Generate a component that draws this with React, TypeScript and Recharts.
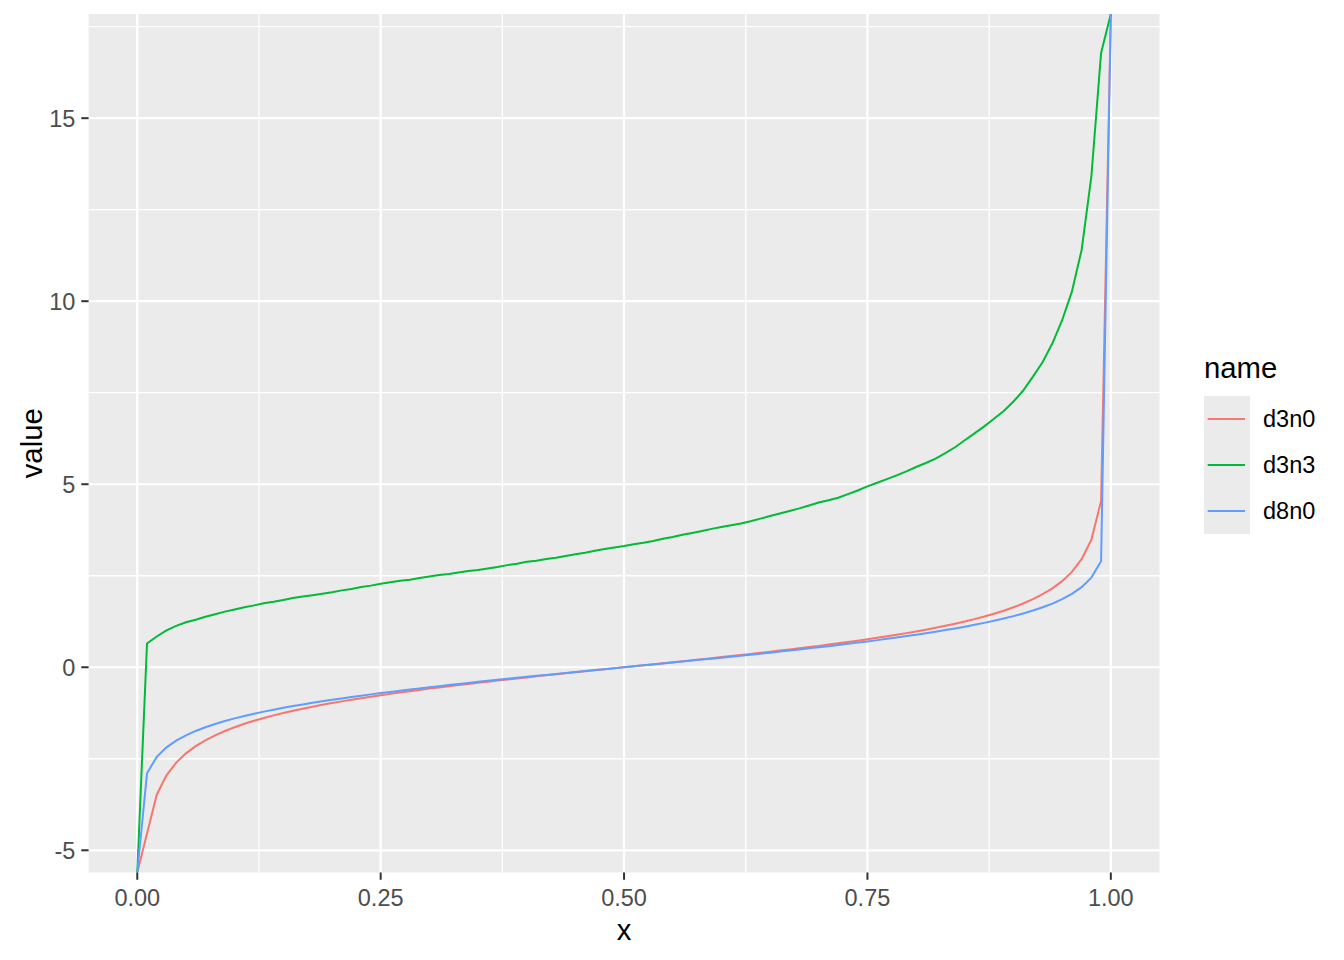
import React from "react";
import {
  LineChart,
  Line,
  XAxis,
  YAxis,
  CartesianGrid,
  ReferenceLine,
  Legend,
} from "recharts";

const FONT = "'Liberation Sans', Arial, sans-serif";

const xValues = [
  0, 0.01, 0.02, 0.03, 0.04, 0.05, 0.06, 0.07, 0.08, 0.09,
  0.1, 0.11, 0.12, 0.13, 0.14, 0.15, 0.16, 0.17, 0.18, 0.19,
  0.2, 0.21, 0.22, 0.23, 0.24, 0.25, 0.26, 0.27, 0.28, 0.29,
  0.3, 0.31, 0.32, 0.33, 0.34, 0.35, 0.36, 0.37, 0.38, 0.39,
  0.4, 0.41, 0.42, 0.43, 0.44, 0.45, 0.46, 0.47, 0.48, 0.49,
  0.5, 0.51, 0.52, 0.53, 0.54, 0.55, 0.56, 0.57, 0.58, 0.59,
  0.6, 0.61, 0.62, 0.63, 0.64, 0.65, 0.66, 0.67, 0.68, 0.69,
  0.7, 0.71, 0.72, 0.73, 0.74, 0.75, 0.76, 0.77, 0.78, 0.79,
  0.8, 0.81, 0.82, 0.83, 0.84, 0.85, 0.86, 0.87, 0.88, 0.89,
  0.9, 0.91, 0.92, 0.93, 0.94, 0.95, 0.96, 0.97, 0.98, 0.99,
  1,
];

// -Infinity / Infinity at the ends are drawn on the panel edge, like ggplot does
const d3n0 = [
  -Infinity, -4.541, -3.482, -2.951, -2.605, -2.353, -2.156, -1.995, -1.859, -1.741,
  -1.638, -1.545, -1.462, -1.385, -1.315, -1.25, -1.189, -1.132, -1.078, -1.027,
  -0.979, -0.932, -0.888, -0.845, -0.804, -0.765, -0.727, -0.69, -0.654, -0.619,
  -0.584, -0.551, -0.518, -0.486, -0.455, -0.424, -0.394, -0.364, -0.335, -0.305,
  -0.277, -0.248, -0.22, -0.192, -0.164, -0.137, -0.109, -0.082, -0.055, -0.027,
  0, 0.027, 0.055, 0.082, 0.109, 0.137, 0.164, 0.192, 0.22, 0.248,
  0.277, 0.305, 0.335, 0.364, 0.394, 0.424, 0.455, 0.486, 0.518, 0.551,
  0.584, 0.619, 0.654, 0.69, 0.727, 0.765, 0.804, 0.845, 0.888, 0.932,
  0.979, 1.027, 1.078, 1.132, 1.189, 1.25, 1.315, 1.385, 1.462, 1.545,
  1.638, 1.741, 1.859, 1.995, 2.156, 2.353, 2.605, 2.951, 3.482, 4.541,
  Infinity,
];

const d3n3 = [
  -Infinity, 0.65, 0.84, 1.01, 1.13, 1.23, 1.3, 1.38, 1.45, 1.52,
  1.58, 1.64, 1.69, 1.75, 1.79, 1.84, 1.89, 1.93, 1.97, 2.01,
  2.05, 2.1, 2.14, 2.19, 2.23, 2.28, 2.32, 2.36, 2.39, 2.44,
  2.48, 2.52, 2.55, 2.59, 2.63, 2.66, 2.7, 2.74, 2.79, 2.83,
  2.88, 2.91, 2.96, 2.99, 3.04, 3.09, 3.13, 3.18, 3.23, 3.27,
  3.31, 3.36, 3.4, 3.45, 3.51, 3.56, 3.62, 3.67, 3.72, 3.78,
  3.83, 3.88, 3.93, 3.99, 4.06, 4.13, 4.2, 4.27, 4.34, 4.42,
  4.5, 4.56, 4.63, 4.73, 4.83, 4.94, 5.04, 5.14, 5.24, 5.35,
  5.47, 5.58, 5.7, 5.85, 6.01, 6.2, 6.39, 6.58, 6.79, 7.0,
  7.26, 7.56, 7.94, 8.34, 8.85, 9.48, 10.26, 11.4, 13.4, 16.78,
  Infinity,
];

const d8n0 = [
  -Infinity, -2.897, -2.449, -2.189, -2.004, -1.86, -1.74, -1.638, -1.549, -1.469,
  -1.397, -1.331, -1.27, -1.212, -1.159, -1.108, -1.06, -1.015, -0.971, -0.929,
  -0.889, -0.851, -0.813, -0.776, -0.741, -0.706, -0.673, -0.64, -0.608, -0.577,
  -0.546, -0.516, -0.486, -0.457, -0.428, -0.399, -0.371, -0.344, -0.316, -0.289,
  -0.262, -0.235, -0.209, -0.182, -0.156, -0.13, -0.104, -0.078, -0.052, -0.026,
  0, 0.026, 0.052, 0.078, 0.104, 0.13, 0.156, 0.182, 0.209, 0.235,
  0.262, 0.289, 0.316, 0.344, 0.371, 0.399, 0.428, 0.457, 0.486, 0.516,
  0.546, 0.577, 0.608, 0.64, 0.673, 0.706, 0.741, 0.776, 0.813, 0.851,
  0.889, 0.929, 0.971, 1.015, 1.06, 1.108, 1.159, 1.212, 1.27, 1.331,
  1.397, 1.469, 1.549, 1.638, 1.74, 1.86, 2.004, 2.189, 2.449, 2.897,
  Infinity,
];

const seriesNames = ["d3n0", "d3n3", "d8n0"];
const seriesValues = [d3n0, d3n3, d8n0];
const seriesColors = ["#F8766D", "#00BA38", "#619CFF"];

const xTicks = [0, 0.25, 0.5, 0.75, 1];
const xMinor = [0.125, 0.375, 0.625, 0.875];
const yTicks = [-5, 0, 5, 10, 15];
const yMinor = [-2.5, 2.5, 7.5, 12.5, 17.5];

// ggplot-style 5% expansion of the finite data range
const finite = seriesValues.flat().filter((v) => Number.isFinite(v));
const yLo = Math.min(...finite);
const yHi = Math.max(...finite);
const yPad = (yHi - yLo) * 0.05;
const yDomain: [number, number] = [yLo - yPad, yHi + yPad];
const xDomain: [number, number] = [-0.05, 1.05];

const toPanel = (v: number) =>
  v === -Infinity ? yDomain[0] : v === Infinity ? yDomain[1] : v;

const rows = xValues.map((x, i) => {
  const row: Record<string, number> = { x };
  seriesNames.forEach((name, s) => {
    row[name] = toPanel(seriesValues[s][i]);
  });
  return row;
});

function LegendBox() {
  return (
    <svg width={150} height={200} style={{ display: "block", overflow: "visible" }}>
      <text x={4} y={33} fontSize={29.3} fontFamily={FONT} fill="#000">
        name
      </text>
      <rect x={4} y={51} width={46} height={138} fill="#EBEBEB" />
      {seriesNames.map((name, i) => (
        <g key={name}>
          <line
            x1={7.7}
            x2={45}
            y1={74 + 46 * i}
            y2={74 + 46 * i}
            stroke={seriesColors[i]}
            strokeWidth={2}
          />
          <text
            x={63}
            y={74 + 46 * i + 8.3}
            fontSize={23.5}
            fontFamily={FONT}
            fill="#000"
          >
            {name}
          </text>
        </g>
      ))}
    </svg>
  );
}

export default function App() {
  const tickStyle = { fontSize: 23.5, fill: "#4D4D4D", fontFamily: FONT };
  return (
    <div style={{ position: "absolute", left: 0, top: 0 }}>
      <LineChart
        width={1344}
        height={960}
        data={rows}
        margin={{ top: 14, right: 184.5, bottom: 0, left: 0 }}
        style={{ background: "#fff" }}
      >
        <CartesianGrid fill="#EBEBEB" stroke="none" horizontal={false} vertical={false} />
        {xMinor.map((v) => (
          <ReferenceLine key={"xm" + v} x={v} stroke="#fff" strokeWidth={1.3} />
        ))}
        {yMinor.map((v) => (
          <ReferenceLine key={"ym" + v} y={v} stroke="#fff" strokeWidth={1.3} />
        ))}
        {xTicks.map((v) => (
          <ReferenceLine key={"xM" + v} x={v} stroke="#fff" strokeWidth={2.2} />
        ))}
        {yTicks.map((v) => (
          <ReferenceLine key={"yM" + v} y={v} stroke="#fff" strokeWidth={2.2} />
        ))}
        <XAxis
          dataKey="x"
          type="number"
          domain={xDomain}
          allowDataOverflow
          ticks={xTicks}
          interval={0}
          tickFormatter={(v) => Number(v).toFixed(2)}
          height={87.5}
          axisLine={false}
          tickSize={7.3}
          tickMargin={9.3}
          tickLine={{ stroke: "#333333", strokeWidth: 2 }}
          tick={tickStyle}
          label={{
            content: ({ viewBox }: any) => (
              <text
                x={viewBox.x + viewBox.width / 2}
                y={viewBox.y + 67.5}
                textAnchor="middle"
                fontSize={29.3}
                fontFamily={FONT}
                fill="#000"
              >
                x
              </text>
            ),
          }}
        />
        <YAxis
          type="number"
          domain={yDomain}
          allowDataOverflow
          ticks={yTicks}
          interval={0}
          width={88.6}
          axisLine={false}
          tickSize={7.3}
          tickMargin={6}
          tickLine={{ stroke: "#333333", strokeWidth: 2 }}
          tick={tickStyle}
          label={{
            content: ({ viewBox }: any) => {
              const cx = viewBox.x + 41.7;
              const cy = viewBox.y + viewBox.height / 2;
              return (
                <text
                  x={cx}
                  y={cy}
                  transform={`rotate(-90 ${cx} ${cy})`}
                  textAnchor="middle"
                  fontSize={29.3}
                  fontFamily={FONT}
                  fill="#000"
                >
                  value
                </text>
              );
            },
          }}
        />
        {seriesNames.map((name, i) => (
          <Line
            key={name}
            type="linear"
            dataKey={name}
            stroke={seriesColors[i]}
            strokeWidth={2}
            dot={false}
            activeDot={false}
            isAnimationActive={false}
          />
        ))}
        <Legend
          layout="vertical"
          align="center"
          verticalAlign="middle"
          wrapperStyle={{ left: 1200, top: 345, width: 150, height: 200 }}
          content={() => <LegendBox />}
        />
      </LineChart>
    </div>
  );
}
